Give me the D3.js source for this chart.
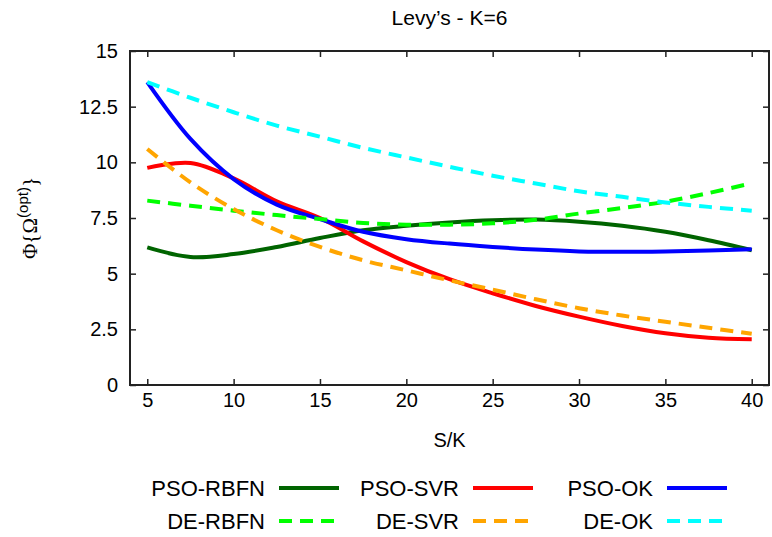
<!DOCTYPE html>
<html>
<head>
<meta charset="utf-8">
<script src="https://cdn.jsdelivr.net/npm/d3@7"></script>
<style>
  html, body { margin: 0; padding: 0; background: #fff; overflow: hidden; }
  svg { display: block; }
</style>
</head>
<body>
<div id="chart"></div>
<script>
// Data (S/K on x)
const sk = [5, 7.5, 10, 12.5, 15, 17.5, 20, 22.5, 25, 27.5, 30, 32.5, 35, 37.5, 40];

const psoRbfn = [6.18, 5.75, 5.88, 6.2, 6.6, 6.95, 7.15, 7.3, 7.4, 7.43, 7.33, 7.15, 6.88, 6.5, 6.05];
const psoSvr  = [9.75, 9.97, 9.28, 8.25, 7.5, 6.45, 5.52, 4.75, 4.12, 3.55, 3.07, 2.65, 2.32, 2.12, 2.05];
const psoOk   = [13.6, 11.05, 9.25, 8.1, 7.45, 6.88, 6.55, 6.35, 6.2, 6.08, 6.0, 5.98, 6.0, 6.04, 6.1];
const deRbfn  = [8.28, 8.05, 7.83, 7.63, 7.45, 7.28, 7.2, 7.2, 7.26, 7.42, 7.7, 7.95, 8.23, 8.62, 9.06];
const deSvr   = [10.6, 9.1, 7.9, 6.95, 6.2, 5.6, 5.15, 4.7, 4.28, 3.85, 3.45, 3.12, 2.84, 2.57, 2.3];
const deOk    = [13.6, 12.9, 12.25, 11.65, 11.15, 10.65, 10.22, 9.8, 9.4, 9.05, 8.7, 8.45, 8.2, 8.0, 7.83];

const xTicks = [5, 10, 15, 20, 25, 30, 35, 40];
const yTicks = [0, 2.5, 5, 7.5, 10, 12.5, 15];

const series = [
    { name: "PSO-RBFN", values: psoRbfn, color: "#006400", dashed: false },
    { name: "PSO-SVR",  values: psoSvr,  color: "#ff0000", dashed: false },
    { name: "PSO-OK",   values: psoOk,   color: "#0000ff", dashed: false },
    { name: "DE-RBFN",  values: deRbfn,  color: "#00ff00", dashed: true },
    { name: "DE-SVR",   values: deSvr,   color: "#ffa500", dashed: true },
    { name: "DE-OK",    values: deOk,    color: "#00ffff", dashed: true }
];

const font = "Liberation Sans, Arial, sans-serif";
const width = 772, height = 537;
const margin = { top: 51, right: 3, bottom: 152, left: 130 };
const innerWidth = width - margin.left - margin.right;
const innerHeight = height - margin.top - margin.bottom;

const svg = d3.select("#chart")
    .append("svg")
    .attr("width", width)
    .attr("height", height)
    .attr("font-family", font);

const inner = svg.append("g")
    .attr("transform", `translate(${margin.left},${margin.top})`);

const xScale = d3.scaleLinear().domain([4, 41]).range([0, innerWidth]);
const yScale = d3.scaleLinear().domain([0, 15]).range([innerHeight, 0]);

// Axes with inward ticks on all four sides
const styleAxis = g => {
    g.attr("font-size", 20).attr("font-family", font);
    g.select(".domain").remove();
    g.selectAll(".tick line").attr("stroke", "#222").attr("stroke-width", 1.5);
    g.selectAll(".tick text").attr("fill", "#000").attr("font-size", 20);
};
// mirror axes: ticks only, drop the empty labels
const ticksOnly = g => {
    styleAxis(g);
    g.selectAll(".tick text").remove();
};

inner.append("g")
    .attr("transform", `translate(0,${innerHeight})`)
    .call(d3.axisBottom(xScale).tickValues(xTicks).tickSizeInner(-6).tickSizeOuter(0).tickPadding(8))
    .call(styleAxis);

inner.append("g")
    .call(d3.axisTop(xScale).tickValues(xTicks).tickSizeInner(-6).tickSizeOuter(0))
    .call(ticksOnly);

inner.append("g")
    .call(d3.axisLeft(yScale).tickValues(yTicks).tickSizeInner(-6).tickSizeOuter(0).tickPadding(12)
        .tickFormat(d3.format("")))
    .call(styleAxis);

inner.append("g")
    .attr("transform", `translate(${innerWidth},0)`)
    .call(d3.axisRight(yScale).tickValues(yTicks).tickSizeInner(-6).tickSizeOuter(0))
    .call(ticksOnly);

// Curves
const line = d3.line()
    .x((d, i) => xScale(sk[i]))
    .y(d => yScale(d))
    .curve(d3.curveCatmullRom.alpha(0.5));

inner.selectAll("path.series")
    .data(series)
    .join("path")
    .attr("class", "series")
    .attr("d", d => line(d.values))
    .attr("fill", "none")
    .attr("stroke", d => d.color)
    .attr("stroke-width", 4)
    .attr("stroke-dasharray", d => d.dashed ? "13,8" : null);

// Frame
inner.append("rect")
    .attr("width", innerWidth)
    .attr("height", innerHeight)
    .attr("fill", "none")
    .attr("stroke", "#222")
    .attr("stroke-width", 2);

// Title
svg.append("text")
    .text("Levy\u2019s - K=6")
    .attr("x", margin.left + innerWidth / 2)
    .attr("y", 25)
    .attr("text-anchor", "middle")
    .attr("font-size", 21)
    .attr("fill", "#000");

// x-axis label
svg.append("text")
    .text("S/K")
    .attr("x", margin.left + innerWidth / 2)
    .attr("y", 447)
    .attr("text-anchor", "middle")
    .attr("font-size", 20)
    .attr("fill", "#000");

// y-axis label
const yLabel = svg.append("text")
    .attr("transform", `translate(37,${margin.top + innerHeight / 2}) rotate(-90)`)
    .attr("text-anchor", "middle")
    .attr("font-size", 21)
    .attr("fill", "#000");
yLabel.append("tspan")
    .text("\u03A6{\u03A9")
    .attr("font-family", "Liberation Serif, serif");
yLabel.append("tspan")
    .text("(opt)")
    .attr("dy", -9)
    .attr("font-size", 15);
yLabel.append("tspan")
    .text("}")
    .attr("dy", 9)
    .attr("font-family", "Liberation Serif, serif");

// Legend: 3 columns x 2 rows, text right-aligned before the sample line
const legendCols = [265, 459, 653];
const legendRows = [488, 521];

series.forEach((s, i) => {
    const col = i % 3, row = Math.floor(i / 3);
    const g = svg.append("g")
        .attr("transform", `translate(${legendCols[col]},${legendRows[row]})`);

    g.append("text")
        .text(s.name)
        .attr("text-anchor", "end")
        .attr("dy", "0.36em")
        .attr("font-size", 22)
        .attr("fill", "#000");

    g.append("line")
        .attr("x1", 14)
        .attr("x2", 74)
        .attr("stroke", s.color)
        .attr("stroke-width", 4)
        .attr("stroke-dasharray", s.dashed ? "13,8" : null);
});
</script>
</body>
</html>
